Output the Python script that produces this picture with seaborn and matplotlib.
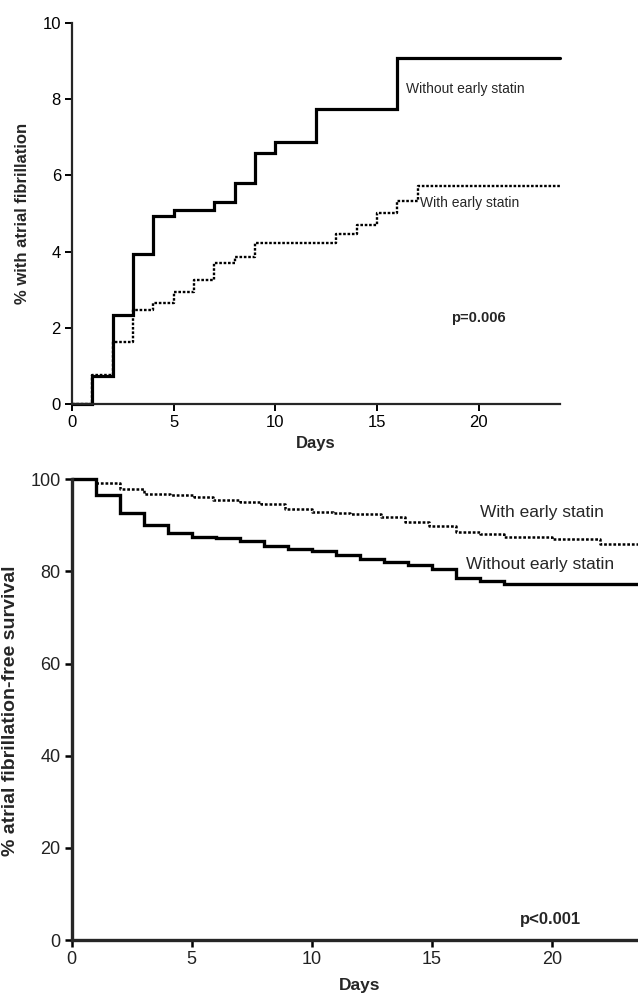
import matplotlib
matplotlib.use("Agg")
import matplotlib.pyplot as plt
import seaborn as sns
import pandas as pd

# ---------------- data ----------------
# Top panel: cumulative % with atrial fibrillation
top_without_days = [0, 1, 2, 3, 4, 5, 7, 8, 9, 10, 12, 16, 24]
top_without_vals = [0, 0.73, 2.35, 3.94, 4.93, 5.09, 5.31, 5.79, 6.59, 6.87, 7.73, 9.08, 9.08]
top_with_days = [0, 1, 2, 3, 4, 5, 6, 7, 8, 9, 13, 14, 15, 16, 17, 24]
top_with_vals = [0, 0.78, 1.63, 2.46, 2.65, 2.93, 3.25, 3.70, 3.87, 4.22, 4.46, 4.70, 5.00, 5.33, 5.73, 5.73]

# Bottom panel: % atrial fibrillation-free survival
bot_without_days = [0, 1, 2, 3, 4, 5, 6, 7, 8, 9, 10, 11, 12, 13, 14, 15, 16, 17, 18, 24]
bot_without_vals = [100, 96.7, 92.7, 90.1, 88.3, 87.5, 87.2, 86.7, 85.5, 84.8, 84.4, 83.6,
                    82.6, 82.1, 81.4, 80.5, 78.5, 78.0, 77.3, 77.3]
bot_with_days = [0, 1, 2, 3, 4.1, 5.1, 5.9, 7, 7.9, 8.9, 10, 10.9, 11.6, 12.9, 13.9, 14.9,
                 16, 17, 18, 20, 22, 24]
bot_with_vals = [100, 99.1, 98.0, 96.9, 96.6, 96.1, 95.5, 95.0, 94.6, 93.5, 93.0, 92.6, 92.5,
                 91.9, 90.8, 89.9, 88.6, 88.1, 87.5, 87.0, 86.0, 86.0]

top_xticks = [0, 5, 10, 15, 20]
top_yticks = [0, 2, 4, 6, 8, 10]
bot_xticks = [0, 5, 10, 15, 20]
bot_yticks = [0, 20, 40, 60, 80, 100]

label_without = "Without early statin"
label_with = "With early statin"

# ---------------- style ----------------
sns.set_style("ticks")
plt.rcParams["font.family"] = ["Liberation Sans", "DejaVu Sans"]

W, H = 638, 996
fig = plt.figure(figsize=(W / 100, H / 100), dpi=100)

# top axes: x 72..560 px, y 22.7..404.3 px
ax1 = fig.add_axes([72 / W, 1 - 404.3 / H, 488 / W, 381.6 / H])
# bottom axes: x 71.7..648 px (beyond the edge), y 479.3..940 px
ax2 = fig.add_axes([71.7 / W, 1 - 940 / H, 576.3 / W, 460.7 / H])

dotted = (0, (1.1, 0.75))

def draw(ax, days, vals, ls, lw):
    df = pd.DataFrame({"Days": days, "val": vals})
    sns.lineplot(data=df, x="Days", y="val", ax=ax, color="black",
                 drawstyle="steps-post", linewidth=lw, estimator=None, sort=False)
    line = ax.lines[-1]
    line.set_linestyle(ls)
    line.set_clip_on(False)
    line.set_solid_joinstyle("miter")

draw(ax1, top_without_days, top_without_vals, "-", 2.3)
draw(ax1, top_with_days, top_with_vals, dotted, 1.7)
draw(ax2, bot_without_days, bot_without_vals, "-", 2.4)
draw(ax2, bot_with_days, bot_with_vals, dotted, 1.8)

# ---- top axis cosmetics ----
ax1.set_xlim(0, 24)
ax1.set_ylim(0, 10)
ax1.set_xticks(top_xticks)
ax1.set_yticks(top_yticks)
for s in ["top", "right"]:
    ax1.spines[s].set_visible(False)
for s in ["left", "bottom"]:
    ax1.spines[s].set_linewidth(1.6)
ax1.tick_params(axis="both", length=5, width=1.4, labelsize=12, pad=3, colors="black")
ax1.set_xlabel("Days", fontsize=12, fontweight="bold")
ax1.xaxis.set_label_coords(0.5, -0.082)
ax1.set_ylabel("")
ax1.text(16.45, 8.26, label_without, fontsize=10, va="center", ha="left")
ax1.text(17.1, 5.27, label_with, fontsize=10, va="center", ha="left")
ax1.text(20.0, 2.26, "p=0.006", fontsize=10.5, fontweight="bold", va="center", ha="center")
fig.text(23 / W, 1 - 213.5 / H, "% with atrial fibrillation", rotation=90, fontsize=12,
         fontweight="bold", ha="center", va="center")

# ---- bottom axis cosmetics ----
ax2.set_xlim(0, 24)
ax2.set_ylim(0, 100)
ax2.set_xticks(bot_xticks)
ax2.set_yticks(bot_yticks)
for s in ["top", "right"]:
    ax2.spines[s].set_visible(False)
for s in ["left", "bottom"]:
    ax2.spines[s].set_linewidth(2.4)
ax2.tick_params(axis="both", length=5, width=1.8, labelsize=13, pad=3,
                labelcolor="#222222", color="black")
ax2.set_xlabel("Days", fontsize=12.5, fontweight="bold")
ax2.xaxis.set_label_coords(0.5, -0.083)
ax2.set_ylabel("")
ax2.text(17.0, 92.7, label_with, fontsize=12.5, va="center", ha="left")
ax2.text(16.4, 81.6, label_without, fontsize=12.5, va="center", ha="left")
ax2.text(19.95, 4.5, "p<0.001", fontsize=12, fontweight="bold", va="center", ha="center")
fig.text(11 / W, 1 - 711 / H, "% atrial fibrillation-free survival", rotation=90,
         fontsize=14, fontweight="bold", ha="center", va="center")

fig.savefig("out.png", dpi=100)
